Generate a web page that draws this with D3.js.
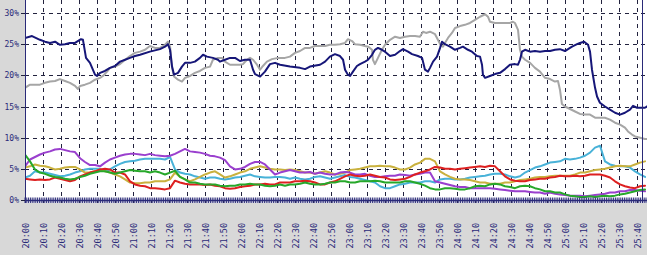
<!DOCTYPE html>
<html><head><meta charset="utf-8">
<script src="https://cdn.jsdelivr.net/npm/d3@7"></script>
<style>html,body{margin:0;padding:0;background:#d8d8d8;overflow:hidden}svg{display:block}</style>
</head><body><svg id="c" width="647" height="255"></svg>
<script>
// ---------- DATA ----------
const timeLabels = ["20:00","20:10","20:20","20:30","20:40","20:50","21:00","21:10","21:20","21:30","21:40","21:50",
  "22:00","22:10","22:20","22:30","22:40","22:50","23:00","23:10","23:20","23:30","23:40","23:50",
  "24:00","24:10","24:20","24:30","24:40","24:50","25:00","25:10","25:20","25:30","25:40"];
const yTickValues = [0,5,10,15,20,25,30];
const yTickLabels = ["0%","5%","10%","15%","20%","25%","30%"];

// [minutes after 20:00, percent]
const navySeries = [[0,26.0],[3.9,26.3],[8.3,25.7],[11.1,25.4],[13.9,25.2],[16.7,25.4],[19.4,24.9],[22.2,25.0],[25,25.2],[27.8,25.2],
 [31.1,25.8],[32.2,25.7],[33.9,22.8],[36.1,22.0],[38.9,20.1],[40,19.9],[41.7,20.4],[44.4,20.7],[47.2,21.2],[50,21.5],
 [52.8,22.2],[55.6,22.5],[58.3,22.8],[61.1,23.1],[63.9,23.3],[69.4,23.8],[75,24.2],[77.8,24.6],[79.4,25.0],[80.6,24.1],
 [81.7,21.4],[82.8,20.1],[85,20.4],[87.2,21.4],[88.9,22.0],[91.7,22.0],[94.4,22.2],[97.2,22.8],[98.9,23.3],[101.1,23.0],
 [104.4,22.8],[107.2,22.5],[108.3,22.2],[111.1,22.5],[113.9,22.8],[116.7,22.8],[119.4,22.3],[122.2,22.5],[125,22.5],[126.7,20.9],
 [127.8,20.2],[130.6,19.8],[133.3,20.6],[136.1,21.8],[138.9,22.0],[141.7,21.7],[147.2,21.4],[152.8,21.2],[155.6,21.0],[158.3,21.4],
 [163.9,21.7],[166.7,22.2],[169.4,23.0],[172.2,23.4],[175,23.1],[176.7,22.5],[177.8,20.9],[179.4,20.1],[180.6,19.9],[182.2,20.6],
 [184.4,21.5],[186.1,21.8],[188.9,22.2],[190.6,22.5],[192.8,23.3],[194.4,24.1],[196.1,24.4],[198.3,24.1],[200,23.8],[202.8,23.1],
 [205.6,23.3],[208.3,23.9],[210,24.2],[212.8,23.8],[215,23.4],[218.3,23.1],[220.6,22.8],[222.2,20.9],[223.9,20.6],[225,21.2],
 [226.7,22.2],[228.9,23.0],[230.6,24.4],[231.7,25.4],[233.3,25.0],[236.1,24.6],[238.9,24.1],[241.7,24.4],[243.3,24.6],[246.1,24.1],
 [248.3,23.8],[251.1,23.1],[252.8,23.0],[253.9,21.7],[254.4,20.1],[255.6,19.6],[258.3,19.9],[261.1,20.2],[263.9,20.4],[266.7,21.0],
 [269.4,21.7],[272.2,21.8],[273.9,21.7],[275,22.5],[276.1,23.8],[277.8,24.1],[280.6,23.8],[283.3,23.9],[286.1,23.8],[288.9,23.9],
 [291.7,23.9],[294.4,24.1],[297.2,24.2],[300,23.9],[301.7,24.2],[303.9,24.6],[306.7,25.0],[308.3,25.2],[310.6,25.4],[312.8,24.9],
 [313.9,23.8],[315,20.9],[316.7,18.0],[317.8,16.6],[319.4,15.6],[322.2,15.0],[325,14.5],[327.8,14.0],[330.6,13.7],[333.3,14.0],
 [336.1,14.5],[337.8,15.1],[340,14.8],[342.2,14.8],[344.4,14.8],[346.1,15.1]];

const graySeries = [[0,18.0],[2.8,18.5],[5.6,18.5],[8.3,18.5],[11.1,18.8],[13.9,19.0],[16.7,19.1],[19.4,19.4],[22.2,19.1],[25,18.8],
 [27.8,18.3],[29.4,17.8],[30.6,18.3],[33.3,18.5],[36.1,18.8],[38.9,19.3],[41.7,19.6],[43.3,19.9],[45.6,20.6],[47.2,21.2],
 [50,21.4],[52.8,21.8],[55.6,22.5],[58.3,23.1],[61.1,23.6],[63.9,23.8],[66.7,24.1],[69.4,24.7],[72.2,24.4],[75,24.4],
 [77.8,24.9],[79.4,25.4],[80.6,24.6],[81.7,21.2],[82.8,19.8],[85,19.3],[87.2,19.0],[88.9,19.6],[91.7,19.9],[94.4,20.4],
 [97.2,20.7],[100,21.2],[102.8,21.4],[104.4,22.5],[107.2,22.8],[109.4,22.8],[111.1,22.2],[113.9,21.7],[116.7,21.7],[119.4,21.7],
 [121.1,21.8],[123.3,22.5],[125,22.8],[126.7,22.5],[128.9,21.7],[130.6,20.9],[132.2,21.5],[134.4,22.2],[137.2,22.6],[140.6,22.8],
 [144.4,22.8],[147.2,23.0],[150,23.6],[152.8,23.9],[155.6,24.4],[158.3,24.4],[161.1,24.7],[163.9,24.7],[166.7,24.7],[169.4,24.9],
 [172.2,24.9],[175,25.0],[177.8,25.2],[179.4,25.8],[181.7,25.5],[183.3,25.0],[186.1,24.9],[188.9,24.7],[190.6,24.6],[192.8,24.1],
 [193.3,22.5],[194.4,21.8],[196.1,22.8],[198.3,24.1],[200,24.9],[202.8,25.7],[205.6,26.2],[208.3,26.0],[211.1,26.2],[213.9,26.3],
 [216.7,26.3],[219.4,26.2],[221.1,27.0],[222.8,26.8],[225,27.0],[227.8,26.6],[229.4,25.7],[230.6,25.0],[232.2,24.6],[233.3,25.2],
 [235,26.0],[237.2,26.8],[238.9,27.6],[241.7,27.9],[244.4,28.1],[247.2,28.4],[250,28.9],[252.8,29.4],[255.6,29.8],[257.2,29.4],
 [258.3,28.6],[261.1,28.4],[263.9,28.4],[266.7,28.4],[269.4,28.4],[271.1,28.6],[272.2,28.4],[273.9,27.3],[275,24.1],[276.1,23.0],
 [277.8,22.5],[280.6,22.0],[283.3,21.2],[286.1,20.6],[288.9,19.6],[291.7,19.4],[294.4,19.0],[296.1,19.1],[297.2,17.7],[298.3,15.4],
 [300,15.0],[302.8,14.6],[305.6,14.2],[308.3,13.8],[311.1,13.7],[313.9,13.7],[316.7,13.2],[319.4,13.2],[322.2,13.2],[325,12.9],
 [327.8,12.4],[330.6,12.1],[333.3,11.6],[335,11.0],[337.2,10.5],[338.9,10.2],[341.7,10.0],[344.4,9.8],[346.1,9.8]];

// small series sampled on a regular grid (one sample every 25/9 minutes from 20:00)
const SAMPLE_STEP_MIN = 25 / 9;
const purpleValues = [5.4,6.5,6.9,7.3,7.6,7.8,8.1,8.2,8.0,7.8, 7.7,6.7,6.1,5.6,5.6,5.4,6.0,6.5,6.8,7.1,
 7.3,7.4,7.4,7.3,7.2,7.4,7.2,7.1,7.0,7.1, 7.4,7.8,8.2,7.8,7.7,7.6,7.4,7.1,7.0,6.8,
 6.4,5.4,4.9,5.0,5.3,5.8,6.1,6.1,5.7,4.9, 4.1,4.4,4.6,4.8,4.6,4.4,4.4,4.5,4.2,4.4,
 4.2,4.1,4.1,4.4,4.5,4.4,4.1,4.1,4.2,3.9, 3.7,3.7,3.8,3.9,3.9,4.1,4.0,3.9,4.1,4.2,
 4.4,4.4,3.0,2.8,2.6,2.4,2.2,2.1,2.1,1.9, 1.9,1.9,1.9,1.9,1.8,1.7,1.6,1.5,1.4,1.4,
 1.4,1.3,1.2,1.2,1.0,1.2,1.0,0.9,0.8,0.7, 0.7,0.7,0.6,0.7,0.8,0.9,1.0,1.2,1.2,1.4,
 1.4,1.6,1.6,1.5,1.4];
const cyanValues = [3.6,3.9,4.6,4.4,4.4,4.2,4.0,3.8,3.9,4.1, 4.4,4.6,4.9,5.0,5.0,5.0,4.6,4.9,5.4,5.8,
 6.1,6.2,6.3,6.5,6.6,6.6,6.6,6.6,6.5,6.9, 4.9,4.4,4.2,4.1,3.8,3.6,3.4,3.6,3.6,3.4,
 3.3,3.4,3.6,3.7,3.9,4.1,3.8,3.7,3.6,3.6, 3.7,3.7,3.6,3.4,3.6,3.4,3.3,3.4,3.7,3.8,
 3.6,3.4,3.6,3.8,4.0,3.7,3.6,3.4,3.2,3.0, 2.8,2.2,1.9,1.9,2.2,2.5,2.6,2.8,2.8,2.8,
 3.0,3.0,2.8,3.3,3.4,3.4,3.3,3.3,3.4,3.6, 3.7,3.8,3.9,4.1,4.2,4.2,4.1,3.8,3.6,3.8,
 4.4,4.8,5.2,5.4,5.7,6.0,6.1,6.2,6.6,6.5, 6.6,6.8,7.1,7.6,8.4,8.7,6.2,5.7,5.5,5.4,
 5.4,5.2,4.6,4.1,3.7];
const yellowValues = [5.2,5.4,5.7,5.5,5.4,5.2,4.9,5.0,5.2,5.3, 5.3,4.9,4.4,4.4,4.6,4.9,4.6,4.4,4.1,3.8,
 3.3,2.8,2.7,2.7,2.8,2.8,3.0,3.0,3.0,3.3, 4.4,3.7,3.3,3.0,3.3,3.7,4.1,4.4,4.6,4.1,
 3.6,3.8,4.1,4.4,4.6,5.0,5.2,5.4,5.2,5.0, 4.9,4.9,4.8,4.9,4.8,4.6,4.4,4.4,4.2,4.4,
 4.6,4.4,4.1,4.2,4.4,4.8,4.9,5.0,5.2,5.4, 5.4,5.5,5.4,5.4,5.2,4.9,4.9,5.2,5.7,6.0,
 6.6,6.6,6.2,4.6,4.1,3.7,3.4,3.3,3.3,3.2, 3.0,2.8,2.8,2.6,2.6,2.6,2.8,2.8,3.0,3.2,
 3.3,3.4,3.6,3.7,3.7,3.8,3.9,3.9,3.9,3.9, 4.1,4.4,4.4,4.6,4.8,4.9,5.0,5.2,5.4,5.5,
 5.4,5.4,5.7,6.0,6.2];
const redValues = [3.4,3.3,3.2,3.3,3.2,3.3,3.6,3.4,3.2,3.0, 3.2,3.8,4.1,4.4,4.6,4.9,5.0,4.9,4.4,4.4,
 4.1,3.0,2.5,2.3,2.2,1.9,1.9,1.8,1.7,1.9, 3.1,2.8,2.6,2.5,2.5,2.5,2.4,2.5,2.3,2.2,
 1.9,1.8,1.9,2.1,2.2,2.3,2.5,2.5,2.6,2.5, 2.5,2.8,2.8,2.8,3.0,3.0,3.1,3.0,2.8,2.5,
 2.5,2.8,3.0,3.4,3.8,4.1,3.9,3.8,3.9,4.1, 3.9,3.7,3.6,3.3,3.2,3.3,3.4,3.7,4.1,4.4,
 4.6,4.9,5.3,5.2,5.0,5.0,4.9,5.0,5.1,5.2, 5.3,5.4,5.3,5.5,5.4,4.6,3.8,3.3,3.1,3.0,
 3.0,3.2,3.3,3.4,3.4,3.6,3.7,3.9,3.8,3.8, 3.9,3.8,3.9,4.1,4.1,4.1,3.9,3.6,3.0,2.5,
 2.2,2.0,1.9,2.2,2.3];
const greenValues = [7.3,6.2,4.9,4.4,4.2,3.9,3.7,3.6,3.4,3.3, 3.4,3.7,3.9,4.2,4.4,4.6,4.6,4.4,4.2,4.4,
 4.6,4.8,4.7,4.6,4.6,4.4,4.6,4.4,4.1,4.4, 4.7,3.7,3.3,2.8,2.8,2.6,2.5,2.5,2.5,2.3,
 2.2,2.3,2.3,2.5,2.5,2.6,2.5,2.5,2.3,2.2, 2.3,2.5,2.3,2.5,2.5,2.6,2.8,2.6,2.5,2.5,
 2.6,2.8,2.8,3.0,3.0,2.8,2.8,3.0,3.0,3.0, 3.1,3.0,2.8,2.8,2.8,2.8,3.0,3.0,2.8,2.6,
 2.3,1.9,1.7,1.7,1.9,1.9,1.8,1.7,1.7,1.9, 2.2,2.3,2.2,2.5,2.6,2.5,2.2,2.1,1.9,2.2,
 2.3,2.2,1.9,1.7,1.4,1.4,1.2,1.2,0.9,0.7, 0.6,0.5,0.5,0.6,0.5,0.6,0.7,0.6,0.7,0.9,
 1.0,1.2,1.4,1.6,1.7];

// ---------- CHART ----------
const W = 647, H = 255;
const svg = d3.select("#c");
const plotLeft = 25, plotBottomWhite = 203, axisY = 200, topY = 13, rightBorder = 642;
const x = d3.scaleLinear().domain([0, 340]).range([plotLeft, 637]);
const y = d3.scaleLinear().domain([0, 30]).range([axisY, topY]);
const ink = "#2a2a78";
const gridInk = "#22223e";

svg.append("rect").attr("width", W).attr("height", H).attr("fill", "#d8d8d8");
svg.append("rect").attr("x", plotLeft).attr("y", 0).attr("width", W - plotLeft).attr("height", plotBottomWhite).attr("fill", "#ffffff");

const defs = svg.append("defs");
defs.append("clipPath").attr("id", "clip").append("rect")
  .attr("x", plotLeft).attr("y", 0).attr("width", W - plotLeft).attr("height", plotBottomWhite);

// horizontal grid
const hg = svg.append("g");
yTickValues.filter(v => v > 0).forEach(v => {
  hg.append("line").attr("x1", plotLeft).attr("x2", W).attr("y1", Math.round(y(v)) + 0.5).attr("y2", Math.round(y(v)) + 0.5)
    .attr("stroke", gridInk).attr("stroke-width", 1).attr("stroke-dasharray", "4,4");
});
// vertical grid
const xTickVals = timeLabels.map((d, i) => i * 10);
xTickVals.filter(v => v > 0).forEach(v => {
  hg.append("line").attr("x1", Math.round(x(v)) + 0.5).attr("x2", Math.round(x(v)) + 0.5).attr("y1", 0).attr("y2", axisY + 3)
    .attr("stroke", gridInk).attr("stroke-width", 1).attr("stroke-dasharray", "4,4");
});

// lines
const line = d3.line().x(d => x(d[0])).y(d => y(d[1]));
const sampled = vals => vals.map((v, i) => [i * SAMPLE_STEP_MIN, v]);
const lg = svg.append("g").attr("clip-path", "url(#clip)").attr("fill", "none")
  .attr("stroke-linejoin", "round").attr("stroke-linecap", "round");
const series = [
  { data: graySeries, color: "#a6a6a6" },
  { data: navySeries, color: "#161678" },
  { data: sampled(cyanValues), color: "#48b2d8" },
  { data: sampled(yellowValues), color: "#c9b13e" },
  { data: sampled(purpleValues), color: "#9a3fce" },
  { data: sampled(redValues), color: "#dd2020" },
  { data: sampled(greenValues), color: "#27a82a" }
];
series.forEach(s => lg.append("path").datum(s.data).attr("d", line).attr("stroke", s.color).attr("stroke-width", 2));

// right border line
svg.append("line").attr("x1", rightBorder + 0.5).attr("x2", rightBorder + 0.5).attr("y1", 0).attr("y2", axisY + 3)
  .attr("stroke", ink).attr("stroke-width", 1);

// x axis with dense minute ticks
const ax = svg.append("g");
ax.append("line").attr("x1", plotLeft).attr("x2", W).attr("y1", axisY + 0.5).attr("y2", axisY + 0.5)
  .attr("stroke", ink).attr("stroke-width", 1.5);
d3.range(0, 347).forEach(m => {
  ax.append("line").attr("x1", x(m)).attr("x2", x(m)).attr("y1", axisY - 2.5).attr("y2", axisY + 3)
    .attr("stroke", ink).attr("stroke-width", 1);
});
// y axis
ax.append("line").attr("x1", plotLeft + 0.5).attr("x2", plotLeft + 0.5).attr("y1", 0).attr("y2", axisY + 3)
  .attr("stroke", ink).attr("stroke-width", 1);

// y labels
yTickValues.forEach((v, i) => {
  const yy = Math.round(y(v)) + 0.5;
  ax.append("line").attr("x1", 21).attr("x2", plotLeft).attr("y1", yy).attr("y2", yy).attr("stroke", gridInk).attr("stroke-width", 1);
  ax.append("text").attr("x", 19).attr("y", yy).attr("dy", "0.35em").attr("text-anchor", "end")
    .attr("font-family", "DejaVu Sans Mono, monospace").attr("font-size", 8).attr("fill", ink).text(yTickLabels[i]);
});
// x labels
timeLabels.forEach((lab, i) => {
  const xx = x(i * 10);
  ax.append("text").attr("transform", `translate(${xx + 4},223) rotate(-90)`).attr("text-anchor", "end")
    .attr("font-family", "DejaVu Sans Mono, monospace").attr("font-size", 8.5).attr("fill", ink).text(lab);
});
</script></body></html>
